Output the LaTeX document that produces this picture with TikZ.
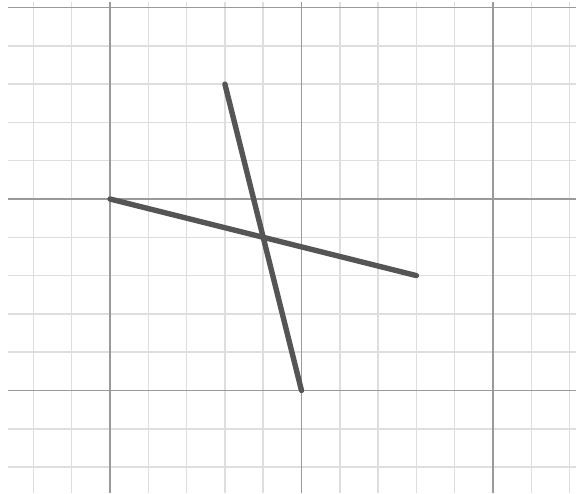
\documentclass[tikz,border=0pt]{standalone}
\usepackage{tikz}
\usepackage{xcolor}
\definecolor{minorgrid}{HTML}{DEDEDE}
\definecolor{majorgrid}{HTML}{9A9A9A}
\definecolor{stroke}{HTML}{555555}
\tikzset{
  minorline/.style={draw=minorgrid,line width=1.1pt},
  majorline/.style={draw=majorgrid,line width=1.1pt},
  segline/.style={draw=stroke,line width=4pt,line cap=round}
}

\begin{document}
\begin{tikzpicture}[x=1cm,y=1cm]
    \path[use as bounding box] (-2.872,-7.676) rectangle (12.167,5.196);
    % minor grid
    \foreach \gx in {-2,...,12}
      \draw[minorline] (\gx,5.14) -- (\gx,-7.676);
    \foreach \gy in {-7,...,5}
      \draw[minorline] (-2.663,\gy) -- (12.167,\gy);
    % major grid
    \foreach \gx in {0,5,10}
      \draw[majorline] (\gx,5.14) -- (\gx,-7.676);
    \foreach \gy in {-5,0,5}
      \draw[majorline] (-2.663,\gy) -- (12.167,\gy);

    \coordinate (p1) at (0,0);
    \coordinate (p2) at (8,-2);
    \coordinate (q1) at (3,3);
    \coordinate (q2) at (5,-5);
    \draw[segline] (p1) -- (p2);
    \draw[segline] (q1) -- (q2);
  \end{tikzpicture}
\end{document}
